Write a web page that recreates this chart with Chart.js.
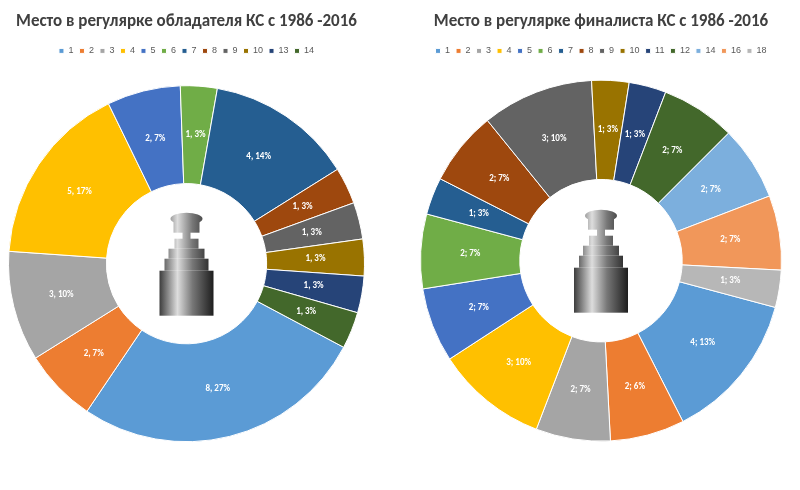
<!DOCTYPE html>
<html><head><meta charset="utf-8">
<script src="https://cdn.jsdelivr.net/npm/chart.js@4"></script>
<style>body{margin:0;background:#fff;width:800px;height:490px;overflow:hidden;font-family:Calibri,'Liberation Sans',Arial}
.w{position:absolute;top:0;height:490px}</style></head><body>
<div class="w" style="left:0;width:375px"><canvas id="a"></canvas></div>
<div class="w" style="left:410px;width:380px"><canvas id="b"></canvas></div>
<script>
const leftCats=['1','2','3','4','5','6','7','8','9','10','13','14'];
const leftVals=[8,2,3,5,2,1,4,1,1,1,1,1];
const leftPct=['27%','7%','10%','17%','7%','3%','14%','3%','3%','3%','3%','3%'];
const rightCats=['1','2','3','4','5','6','7','8','9','10','11','12','14','16','18'];
const rightVals=[4,2,2,3,2,2,1,2,3,1,1,2,2,2,1];
const rightPct=['13%','6%','7%','10%','7%','7%','3%','7%','10%','3%','3%','7%','7%','7%','3%'];
const pal=['#5B9BD5','#ED7D31','#A5A5A5','#FFC000','#4472C4','#70AD47','#255E91','#9E480E','#636363','#997300','#264478','#43682B','#7CAFDD','#F1975A','#B7B7B7'];
const lbl={id:'lbl',afterDatasetsDraw(c,a,o){const x=c.ctx,m=c.getDatasetMeta(0);x.save();x.font='bold 9px Calibri, Liberation Sans, Arial';x.fillStyle='#fff';x.textAlign='center';x.textBaseline='middle';
m.data.forEach((e,i)=>{const p=e.tooltipPosition();x.fillText(o.sep(i),p.x,p.y);});
const cx=(c.chartArea.left+c.chartArea.right)/2,cy=(c.chartArea.top+c.chartArea.bottom)/2;
const g=x.createLinearGradient(cx-30,0,cx+30,0);g.addColorStop(0,'#222');g.addColorStop(.35,'#ddd');g.addColorStop(.6,'#777');g.addColorStop(1,'#111');x.fillStyle=g;
x.beginPath();x.ellipse(cx,cy-45,16,6,0,0,Math.PI*2);x.fill();
x.fillRect(cx-13,cy-45,26,14);x.fillRect(cx-4,cy-32,8,8);x.fillRect(cx-12,cy-25,24,10);x.fillRect(cx-18,cy-15,36,10);x.fillRect(cx-22,cy-5,44,12);x.fillRect(cx-27,cy+7,54,45);
x.restore();}};
function mk(id,title,cats,vals,pct,rot,sep,pad){
new Chart(document.getElementById(id),{type:'doughnut',plugins:[lbl],
data:{labels:cats,datasets:[{data:vals,backgroundColor:pal.slice(0,vals.length),borderColor:'#fff',borderWidth:1}]},
options:{responsive:false,animation:false,rotation:rot,cutout:'45%',layout:{padding:pad},
plugins:{lbl:{sep:i=>vals[i]+sep+' '+pct[i]},tooltip:{enabled:false},
title:{display:true,text:title,color:'#404040',font:{size:17,weight:'bold',family:'Calibri, Liberation Sans, Arial'},padding:{top:6,bottom:8}},
legend:{position:'top',labels:{boxWidth:5,boxHeight:5,font:{size:9},color:'#595959',padding:6}}}}});}
document.getElementById('a').width=375;document.getElementById('a').height=490;
document.getElementById('b').width=380;document.getElementById('b').height=490;
mk('a','Место в регулярке обладателя КС с 1986 -2016',leftCats,leftVals,leftPct,118,',',{left:8,right:10,top:6,bottom:28});
mk('b','Место в регулярке финалиста КС с 1986 -2016',rightCats,rightVals,rightPct,105,';',{left:10,right:8,top:6,bottom:34});
</script></body></html>
